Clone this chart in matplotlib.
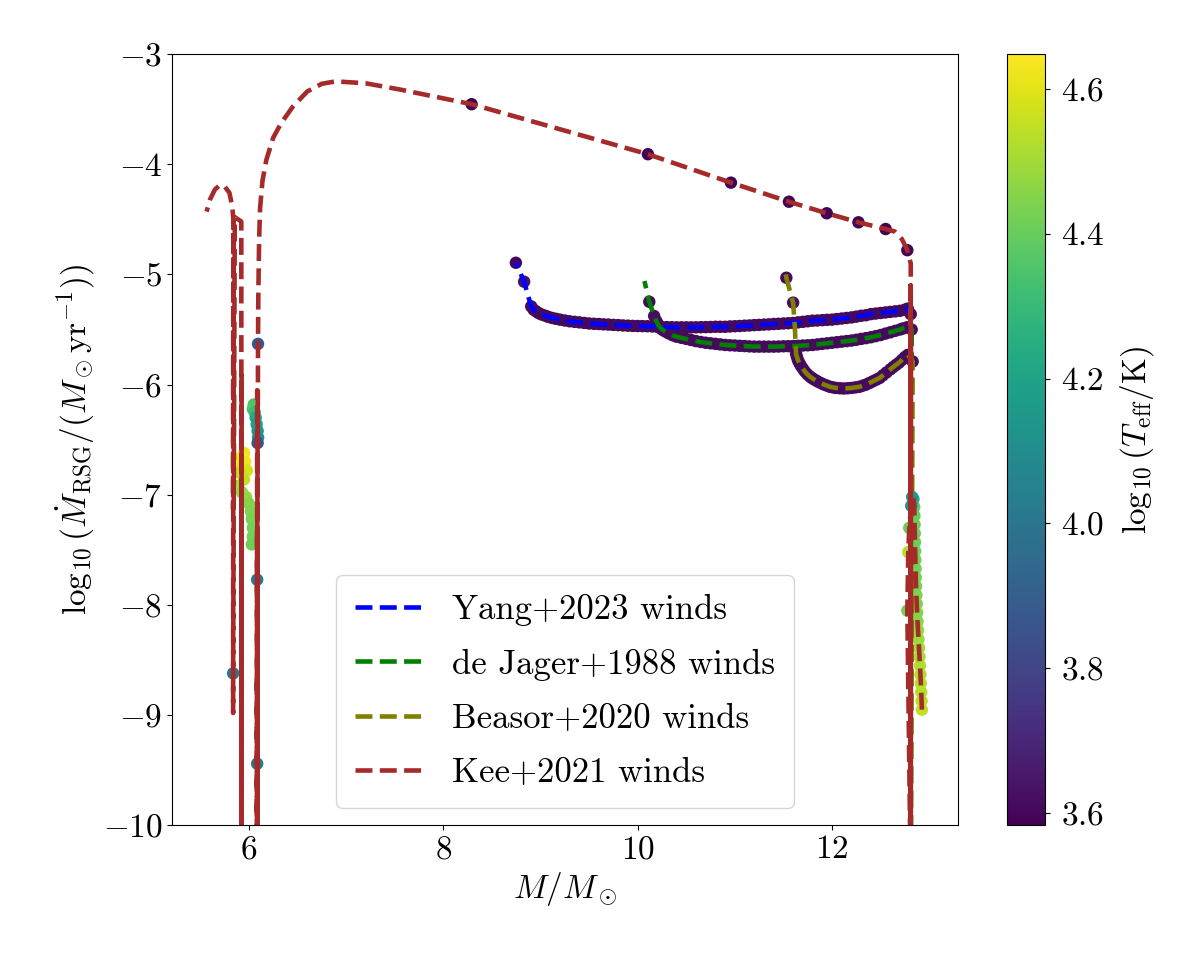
import numpy as np
import matplotlib
matplotlib.use("Agg")
import matplotlib.pyplot as plt
from matplotlib.colors import Normalize

plt.rcParams['font.family'] = 'serif'
plt.rcParams['font.serif'] = ['cmr10', 'DejaVu Serif']
plt.rcParams['mathtext.fontset'] = 'cm'
plt.rcParams['axes.formatter.use_mathtext'] = True
plt.rcParams['font.size'] = 24

nan = np.nan

# Yang+2023 track: mass, log10 Mdot, log10 Teff (nan = no marker)
yang_m = [12.81, 12.81, 12.78, 12.75,
          12.70, 12.65, 12.60, 12.55, 12.50, 12.45, 12.40, 12.35, 12.30, 12.25,
          12.20, 12.15, 12.10, 12.05, 12.00, 11.95, 11.90, 11.85, 11.80, 11.75,
          11.70, 11.65, 11.60, 11.55, 11.50, 11.45, 11.40, 11.35, 11.30, 11.25,
          11.20, 11.15, 11.10, 11.05, 11.00, 10.95, 10.90, 10.85, 10.80, 10.75,
          10.70, 10.65, 10.60, 10.55, 10.50, 10.45, 10.40, 10.35, 10.30, 10.25,
          10.20, 10.15, 10.10, 10.05, 10.00, 9.95, 9.90, 9.85, 9.80, 9.75,
          9.70, 9.65, 9.60, 9.55, 9.50, 9.45, 9.40, 9.35, 9.30, 9.25,
          9.20, 9.16, 9.12, 9.08, 9.05, 9.01, 8.98, 8.955, 8.93, 8.905,
          8.875, 8.832, 8.747]
yang_mdot = [-10.5, -5.36, -5.31, -5.32,
             -5.33, -5.335, -5.34, -5.345, -5.35, -5.355, -5.36, -5.37, -5.375, -5.383,
             -5.39, -5.395, -5.40, -5.405, -5.41, -5.412, -5.415, -5.418, -5.42, -5.425,
             -5.43, -5.435, -5.44, -5.443, -5.445, -5.448, -5.45, -5.453, -5.455, -5.458,
             -5.46, -5.463, -5.465, -5.468, -5.47, -5.472, -5.475, -5.475, -5.475, -5.477,
             -5.478, -5.479, -5.48, -5.48, -5.48, -5.48, -5.48, -5.479, -5.478, -5.477,
             -5.475, -5.472, -5.47, -5.469, -5.468, -5.467, -5.465, -5.463, -5.46, -5.458,
             -5.455, -5.453, -5.45, -5.448, -5.445, -5.44, -5.435, -5.43, -5.425, -5.418,
             -5.41, -5.403, -5.395, -5.385, -5.375, -5.363, -5.35, -5.335, -5.32, -5.29,
             -5.20, -5.066, -4.894]
yang_teff = [nan, 3.62, 3.61, 3.61,
             3.61, 3.61, 3.61, 3.61, 3.61, 3.61, 3.61, 3.61, 3.61, 3.61,
             3.61, 3.61, 3.61, 3.61, 3.61, 3.61, 3.61, 3.61, 3.61, 3.61,
             3.61, 3.61, 3.61, 3.61, 3.61, 3.61, 3.61, 3.61, 3.61, 3.61,
             3.61, 3.61, 3.61, 3.61, 3.61, 3.61, 3.61, 3.61, 3.61, 3.61,
             3.61, 3.61, 3.61, 3.61, 3.61, 3.61, 3.61, 3.61, 3.61, 3.61,
             3.61, 3.61, 3.61, 3.61, 3.61, 3.61, 3.61, 3.61, 3.61, 3.61,
             3.61, 3.61, 3.61, 3.61, 3.61, 3.61, 3.61, 3.61, 3.61, 3.61,
             3.61, 3.61, 3.61, 3.61, 3.61, 3.61, 3.61, 3.61, 3.61, 3.62,
             nan, 3.63, 3.60]

# de Jager+1988 track
dj_m = [12.81, 12.82, 12.77, 12.73,
        12.70, 12.65, 12.60, 12.55, 12.50, 12.45, 12.40, 12.35, 12.30, 12.25,
        12.20, 12.15, 12.10, 12.05, 12.00, 11.95, 11.90, 11.85, 11.80, 11.75,
        11.70, 11.65, 11.60, 11.55, 11.50, 11.45, 11.40, 11.35, 11.30, 11.25,
        11.20, 11.15, 11.10, 11.05, 11.00, 10.95, 10.90, 10.85, 10.80, 10.75,
        10.70, 10.65, 10.60, 10.55, 10.50, 10.45, 10.40, 10.36, 10.32, 10.29,
        10.26, 10.24, 10.22, 10.205, 10.19, 10.17, 10.12, 10.07]
dj_mdot = [-10.5, -5.50, -5.48, -5.49,
           -5.50, -5.512, -5.525, -5.537, -5.55, -5.56, -5.57, -5.578, -5.585, -5.593,
           -5.60, -5.605, -5.61, -5.615, -5.62, -5.625, -5.63, -5.635, -5.64, -5.643,
           -5.645, -5.648, -5.65, -5.651, -5.652, -5.654, -5.655, -5.655, -5.655, -5.655,
           -5.655, -5.653, -5.65, -5.648, -5.645, -5.643, -5.64, -5.635, -5.63, -5.625,
           -5.62, -5.613, -5.605, -5.595, -5.585, -5.575, -5.565, -5.552, -5.535, -5.52,
           -5.505, -5.49, -5.47, -5.445, -5.42, -5.377, -5.248, -5.06]
dj_teff = [nan, 3.62, 3.61, 3.61,
           3.61, 3.61, 3.61, 3.61, 3.61, 3.61, 3.61, 3.61, 3.61, 3.61,
           3.61, 3.61, 3.61, 3.61, 3.61, 3.61, 3.61, 3.61, 3.61, 3.61,
           3.61, 3.61, 3.61, 3.61, 3.61, 3.61, 3.61, 3.61, 3.61, 3.61,
           3.61, 3.61, 3.61, 3.61, 3.61, 3.61, 3.61, 3.61, 3.61, 3.61,
           3.61, 3.61, 3.61, 3.61, 3.61, 3.61, 3.61, 3.61, 3.61, 3.61,
           3.61, 3.61, 3.61, 3.61, 3.61, 3.62, 3.61, nan]

# Beasor+2020 track
bz_m = [12.81, 12.83,
        12.78, 12.75, 12.72, 12.69, 12.66, 12.63, 12.60, 12.56, 12.525, 12.49,
        12.455, 12.42, 12.385, 12.35, 12.315, 12.28, 12.24, 12.20, 12.16, 12.12,
        12.08, 12.04, 12.01, 11.98, 11.95, 11.92, 11.89, 11.86, 11.835, 11.81,
        11.79, 11.77, 11.745, 11.72, 11.70, 11.68, 11.665, 11.65, 11.64, 11.63,
        11.617, 11.60, 11.53, 11.52]
bz_mdot = [-10.5, -5.79,
           -5.73, -5.75, -5.775, -5.80, -5.82, -5.84, -5.862, -5.89, -5.915, -5.94,
           -5.955, -5.97, -5.985, -6.00, -6.01, -6.02, -6.025, -6.03, -6.033, -6.035,
           -6.033, -6.03, -6.025, -6.02, -6.01, -6.00, -5.988, -5.975, -5.962, -5.95,
           -5.938, -5.925, -5.905, -5.88, -5.855, -5.83, -5.805, -5.78, -5.75, -5.72,
           -5.47, -5.256, -5.03, -4.97]
bz_teff = [nan, 3.62,
           3.61, 3.61, 3.61, 3.61, 3.61, 3.61, 3.61, 3.61, 3.61, 3.61,
           3.61, 3.61, 3.61, 3.61, 3.61, 3.61, 3.61, 3.61, 3.61, 3.61,
           3.61, 3.61, 3.61, 3.61, 3.61, 3.61, 3.61, 3.61, 3.61, 3.61,
           3.61, 3.61, 3.61, 3.61, 3.61, 3.61, 3.61, 3.61, 3.61, 3.61,
           nan, 3.62, 3.61, nan]

# Kee+2021 track (main sequence, RSG, blue loop spikes)
kee_m = [12.925, 12.922, 12.918, 12.914, 12.910, 12.905, 12.900, 12.895, 12.890, 12.885,
         12.880, 12.876, 12.872, 12.868, 12.865, 12.862, 12.860, 12.858, 12.856, 12.854,
         12.852, 12.850, 12.848, 12.846, 12.838, 12.825, 12.815, 12.795, 12.785, 12.775,
         12.81, 12.81, 12.81, 12.812, 12.81, 12.81, 12.81, 12.81,
         12.775, 12.72, 12.645, 12.552,
         12.272, 11.946, 11.557, 10.96, 10.106, 8.292, 7.566, 7.20, 6.892, 6.75,
         6.60, 6.45, 6.33, 6.25, 6.18, 6.14, 6.115, 6.105, 6.097, 6.094,
         6.093, 6.090, 6.085, 6.085, 6.085, 6.086, 6.085, 6.085, 6.085, 6.085,
         6.085, 5.925, 5.925, 5.925, 5.925, 5.925, 5.922, 5.855, 5.838, 5.838,
         5.840, 5.838, 5.840, 5.830, 5.80, 5.75, 5.70, 5.65, 5.60, 5.565]
kee_mdot = [-8.95, -8.87, -8.79, -8.71, -8.63, -8.55, -8.47, -8.39, -8.31, -8.23,
            -8.15, -8.07, -7.99, -7.91, -7.83, -7.75, -7.67, -7.59, -7.51, -7.43,
            -7.35, -7.27, -7.19, -7.11, -7.04, -7.02, -7.10, -7.30, -7.52, -8.05,
            -10.5, -5.10, -10.5, -5.63, -10.5, -7.37, -10.5, -4.90,
            -4.78, -4.68, -4.61, -4.588,
            -4.527, -4.445, -4.34, -4.167, -3.909, -3.455, -3.324, -3.265, -3.248, -3.27,
            -3.34, -3.48, -3.63, -3.76, -3.96, -4.15, -4.40, -4.70, -5.20, -5.63,
            -6.00, -6.53, -7.77, -9.44, -10.5, -6.05, -10.5, -7.33, -10.5, -8.61,
            -10.5, -10.5, -5.90, -10.5, -6.93, -10.5, -4.52, -4.48, -8.62, -8.98,
            -4.50, -7.13, -4.50, -4.39, -4.26, -4.20, -4.19, -4.23, -4.32, -4.43]
kee_teff = [4.55, 4.54, 4.53, 4.53, 4.52, 4.52, 4.51, 4.50, 4.49, 4.48,
            4.46, 4.45, 4.44, 4.44, 4.43, 4.43, 4.42, 4.42, 4.42, 4.41,
            4.41, 4.41, 4.40, 4.38, 4.25, 4.15, 4.12, 4.40, 4.53, 4.42,
            nan, nan, nan, nan, nan, nan, nan, nan,
            3.59, nan, nan, 3.59,
            3.59, 3.59, 3.59, 3.59, 3.59, 3.583, nan, nan, nan, nan,
            nan, nan, nan, nan, nan, nan, nan, nan, nan, 3.87,
            nan, 3.85, 4.00, 4.00, nan, nan, nan, nan, nan, nan,
            nan, nan, nan, nan, nan, nan, nan, nan, 4.00, nan,
            nan, nan, nan, nan, nan, nan, nan, nan, nan, nan]

# Kee+2021 blue-loop markers
loop_m = [6.05, 6.04, 6.06, 6.07, 6.08, 6.09, 6.095, 5.95, 5.92, 5.90, 5.93, 5.96,
          5.98, 5.91, 5.95, 5.89, 5.93, 5.97, 6.00, 6.02, 6.03, 6.04, 6.04, 6.03]
loop_mdot = [-6.18, -6.22, -6.25, -6.30, -6.36, -6.42, -6.48, -6.62, -6.66, -6.70, -6.74, -6.70,
             -6.78, -6.80, -6.86, -6.92, -6.98, -7.02, -7.08, -7.15, -7.22, -7.30, -7.38, -7.45]
loop_teff = [4.35, 4.36, 4.30, 4.22, 4.18, 4.15, 4.10, 4.62, 4.648, 4.63, 4.60, 4.62,
             4.58, 4.56, 4.55, 4.50, 4.48, 4.47, 4.45, 4.44, 4.43, 4.42, 4.42, 4.41]

tracks = [
    (yang_m, yang_mdot, yang_teff, 'blue', 'Yang+2023 winds'),
    (dj_m, dj_mdot, dj_teff, 'green', 'de Jager+1988 winds'),
    (bz_m, bz_mdot, bz_teff, 'olive', 'Beasor+2020 winds'),
    (kee_m, kee_mdot, kee_teff, 'brown', 'Kee+2021 winds'),
]

all_teff = np.concatenate([np.array(t[2], float) for t in tracks] + [np.array(loop_teff)])
norm = Normalize(vmin=np.nanmin(all_teff), vmax=np.nanmax(all_teff))

fig = plt.figure(figsize=(12, 9.6), dpi=100)
ax = fig.add_axes([0.1435, 0.1402, 0.6548, 0.8035])
cax = fig.add_axes([0.839, 0.1402, 0.032, 0.8035])

for m, md, te, col, lab in tracks:
    m = np.array(m)
    md = np.array(md)
    te = np.array(te, float)
    if col == 'brown':
        ax.scatter(loop_m, loop_mdot, c=loop_teff, cmap='viridis', norm=norm,
                   s=80, linewidths=0)
    ok = ~np.isnan(te)
    sc = ax.scatter(m[ok], md[ok], c=te[ok], cmap='viridis', norm=norm,
                    s=80, linewidths=0)
    ax.plot(m, md, '--', color=col, lw=3.3, label=lab)

ax.set_xlim(5.211, 13.296)
ax.set_ylim(-10, -3)
ax.set_xticks([6, 8, 10, 12])
ax.set_xlabel(r'$M/M_\odot$')
ax.set_ylabel(r'$\log_{10}(\dot{M}_{\rm RSG}/(M_\odot{\rm yr}^{-1}))$')
ax.legend(loc='lower center', fontsize=25, labelspacing=0.65, borderpad=0.55)

cb = fig.colorbar(sc, cax=cax)
cb.ax.tick_params(pad=8)
cb.set_label(r'$\log_{10}(T_{\rm eff}/{\rm K})$', labelpad=10)

fig.savefig('out.png', dpi=100)
